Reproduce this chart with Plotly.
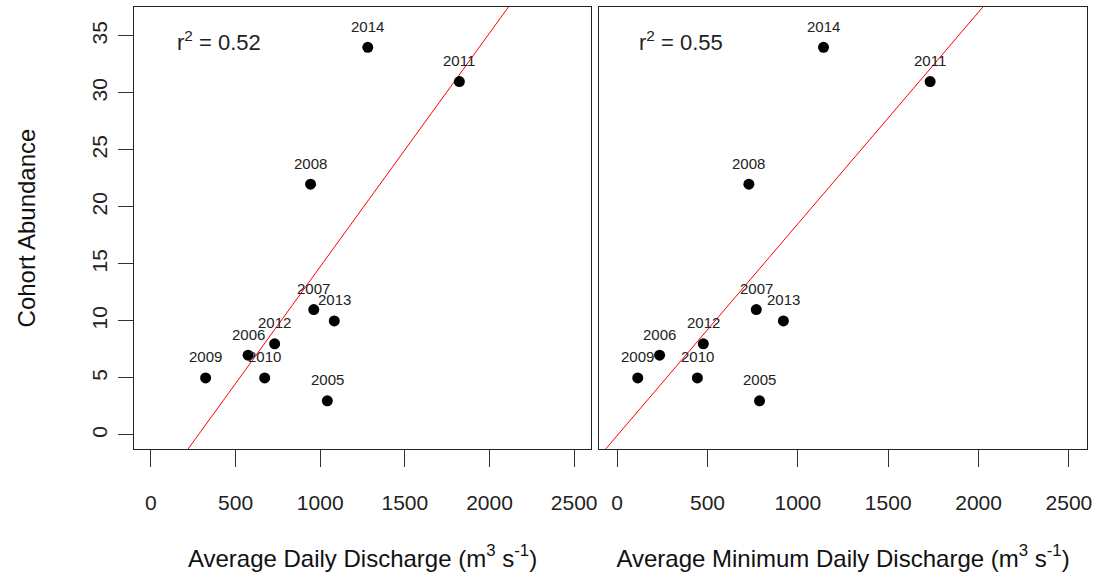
import numpy as np
import plotly.graph_objects as go

years = ["2005", "2006", "2007", "2008", "2009", "2010", "2011", "2012", "2013", "2014"]
abundance = [3, 7, 11, 22, 5, 5, 31, 8, 10, 34]
avg_discharge = [1042, 574, 962, 943, 323, 672, 1822, 731, 1083, 1281]
min_discharge = [788, 235, 770, 729, 114, 444, 1732, 477, 920, 1142]
r2_labels = ["0.52", "0.55"]
x_titles = ["Average Daily Discharge (m<sup>3</sup> s<sup>-1</sup>)",
            "Average Minimum Daily Discharge (m<sup>3</sup> s<sup>-1</sup>)"]
y_title = "Cohort Abundance"
x_ticks = [0, 500, 1000, 1500, 2000, 2500]
y_ticks = [0, 5, 10, 15, 20, 25, 30, 35]

FONT = "Liberation Sans, Arial, sans-serif"
XR = [-100, 2600]
YR = [-1.23, 37.54]

fig = go.Figure()
annotations = []
for i, xs in enumerate([avg_discharge, min_discharge]):
    xa = "x" if i == 0 else "x2"
    ya = "y" if i == 0 else "y2"
    slope, intercept = np.polyfit(xs, abundance, 1)
    lx = np.array(XR, dtype=float)
    fig.add_trace(go.Scatter(x=lx, y=slope * lx + intercept, mode="lines",
                             line=dict(color="red", width=1), xaxis=xa, yaxis=ya,
                             showlegend=False, hoverinfo="skip"))
    fig.add_trace(go.Scatter(x=xs, y=abundance, mode="markers",
                             marker=dict(color="black", size=11), xaxis=xa, yaxis=ya,
                             showlegend=False))
    for x, y, t in zip(xs, abundance, years):
        annotations.append(dict(x=x, y=y, xref=xa, yref=ya, text=t, showarrow=False,
                                yshift=21, font=dict(family=FONT, size=15, color="#222")))
    annotations.append(dict(x=[143, 108][i], y=34.55, xref=xa, yref=ya,
                            text="r<sup>2</sup> = " + r2_labels[i], showarrow=False,
                            xanchor="left", yanchor="middle",
                            font=dict(family=FONT, size=22, color="#222")))

axis_common = dict(showline=True, mirror=True, linecolor="#222", linewidth=1,
                   showgrid=False, zeroline=False, ticks="outside", tickcolor="#333",
                   tickwidth=1, tickfont=dict(family=FONT, size=21, color="#222"))

fig.update_layout(
    width=1099, height=579,
    margin=dict(l=134, r=8, t=6, b=130),
    plot_bgcolor="white", paper_bgcolor="white",
    annotations=annotations,
    xaxis=dict(domain=[0, 0.4796], range=XR, tickvals=x_ticks, ticklen=17,
               ticklabelstandoff=18,
               title=dict(text=x_titles[0], standoff=36,
                          font=dict(family=FONT, size=24, color="#111")),
               **axis_common),
    xaxis2=dict(domain=[0.488, 1], range=XR, tickvals=x_ticks, ticklen=17,
                ticklabelstandoff=18,
                title=dict(text=x_titles[1], standoff=36,
                           font=dict(family=FONT, size=24, color="#111")),
                **axis_common),
    yaxis=dict(domain=[0, 1], range=YR, tickvals=y_ticks, ticklen=15, tickangle=-90,
               ticklabelstandoff=3,
               title=dict(text=y_title, standoff=45,
                          font=dict(family=FONT, size=24, color="#111")),
               **axis_common),
    yaxis2=dict(domain=[0, 1], range=YR, anchor="x2", showticklabels=False,
                showline=True, mirror=True, linecolor="#222", linewidth=1,
                showgrid=False, zeroline=False, ticks=""),
)

fig.write_html("out.html")
